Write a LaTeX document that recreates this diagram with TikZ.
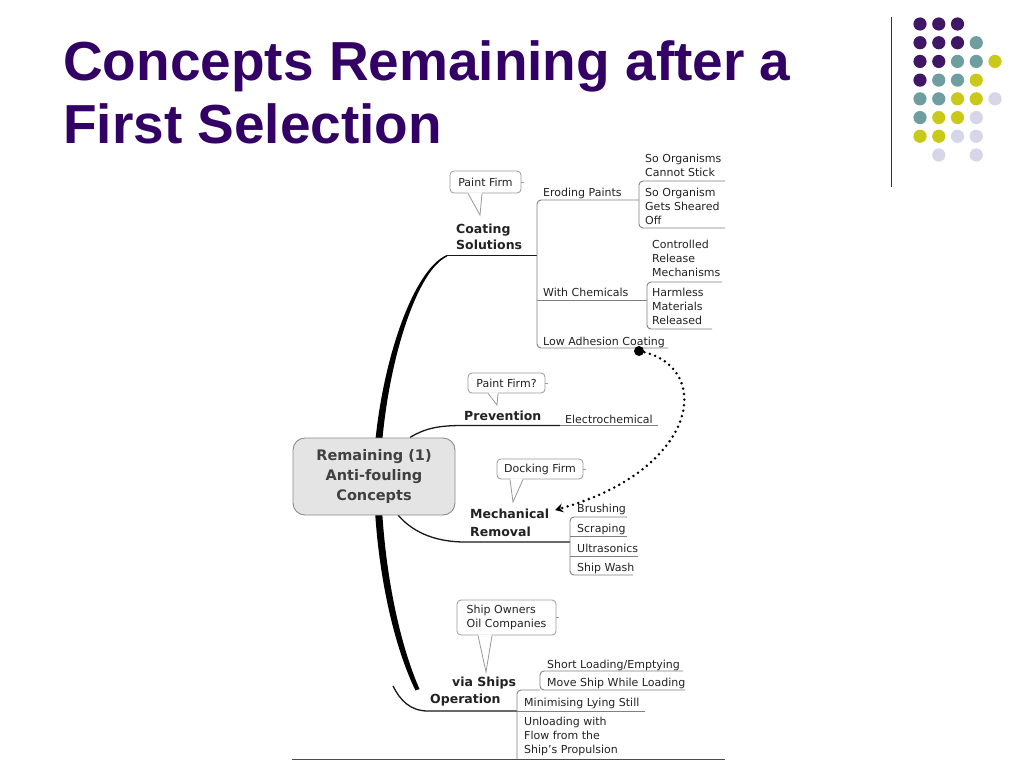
\documentclass[tikz,border=0pt]{standalone}
\usepackage{fontspec}
\setmainfont{DejaVu Sans}
\newfontfamily\titlefont{Liberation Sans}
\usetikzlibrary{arrows.meta}
\definecolor{titlepurple}{RGB}{51,0,102}
\definecolor{dotP}{RGB}{64,22,102}
\definecolor{dotT}{RGB}{110,158,160}
\definecolor{dotY}{RGB}{201,201,26}
\definecolor{dotL}{RGB}{214,214,232}
\definecolor{cenfill}{RGB}{228,228,228}
\definecolor{txt}{RGB}{34,34,34}
\newcommand{\mlines}[1]{\begin{tabular}[t]{@{}l@{}}#1\end{tabular}}
\begin{document}
\begin{tikzpicture}[x=1pt,y=-1pt,
  lbl/.style={inner sep=0pt, anchor=base west, font=\fontsize{11}{14}\selectfont, text=txt},
  boldlbl/.style={inner sep=0pt, anchor=base west, font=\fontsize{12.5}{16.5}\selectfont\bfseries, text=txt},
  br/.style={draw=black!50, line width=0.9pt, rounded corners=4pt},
  mainline/.style={draw=black!90, line width=1.3pt},
  callout/.style={draw=black!40, fill=white, rounded corners=4pt, line width=0.8pt, inner sep=0pt, font=\fontsize{11}{14}\selectfont, text=txt, align=left},
  calloutline/.style={draw=black!40, line width=0.8pt},
  dotted link/.style={draw=black, line width=2.8pt, dash pattern=on 0pt off 5.6pt, line cap=round}]
\useasboundingbox (0,0) rectangle (1024,768);
\fill[white] (0,0) rectangle (1024,768);

% title
\node[inner sep=0pt, anchor=base west, font=\titlefont\bfseries\fontsize{55}{63}\selectfont, text=titlepurple] (title) at (63,80) {\mlines{Concepts Remaining after a\\First Selection}};

% decorative rule and dots
\draw[black!80, line width=1.2pt] (891.5,17) -- (891.5,187);
\foreach \r/\c/\k in {0/0/P,0/1/P,0/2/P,
  1/0/P,1/1/P,1/2/P,1/3/T,
  2/0/P,2/1/P,2/2/T,2/3/T,2/4/Y,
  3/0/P,3/1/T,3/2/T,3/3/Y,
  4/0/T,4/1/T,4/2/Y,4/3/Y,4/4/L,
  5/0/T,5/1/Y,5/2/Y,5/3/L,
  6/0/Y,6/1/Y,6/2/L,6/3/L,
  7/1/L,7/3/L}
  \fill[dot\k] ({920+18.75*\c},{24+18.71*\r}) circle (6.6pt);

% trunk
\fill[black] (447,255) .. controls (414,268.5) and (382,359) .. (374.5,450)
  .. controls (370.5,530) and (386.5,631) .. (415.5,690.5) -- (419.5,689)
  .. controls (393,629) and (378,530) .. (381.5,450)
  .. controls (388,361) and (416.5,271) .. (447,256.5) -- cycle;

% coating branch
\coordinate (tTop) at (446,255.8);
\coordinate (coatJ) at (537,255.8);
\draw[mainline] (tTop) -- (coatJ);
\draw[br] (639,200) -- (537,200) -- (537,348) -- (668,348);
\draw[br] (537,300) -- (647,300);
\draw[br] (725,181) -- (639,181) -- (639,228) -- (725,228);
\draw[br] (722,282) -- (647,282) -- (647,329) -- (712,329);

\node[lbl] (ero) at (543,196) {Eroding Paints};
\node[lbl] (soA) at (645,162.5) {\mlines{So Organisms\\Cannot Stick}};
\node[lbl] (soB) at (645,196.7) {\mlines{So Organism\\Gets Sheared\\Off}};
\node[lbl] (chem) at (543,296.7) {With Chemicals};
\node[lbl] (ctrl) at (652,248) {\mlines{Controlled\\Release\\Mechanisms}};
\node[lbl] (harm) at (652,296.7) {\mlines{Harmless\\Materials\\Released}};
\node[lbl] (lowad) at (543,345) {Low Adhesion Coating};
\node[boldlbl, font=\fontsize{12.5}{16}\selectfont\bfseries] (coat) at (456,233) {\mlines{Coating\\Solutions}};

% prevention branch
\draw[mainline] (410,437.5) .. controls (425,428) and (440,425.5) .. (462,425.5) -- (560,425.5);
\draw[br] (560,425.5) -- (658,425.5);
\node[boldlbl] (prev) at (464,420.7) {Prevention};
\node[lbl] (elec) at (565,423.3) {Electrochemical};

% mechanical branch
\draw[mainline] (398,515) .. controls (415,535) and (440,542) .. (465,542) -- (570,542);
\draw[br] (627,517) -- (570,517) -- (570,575) -- (633,575);
\draw[br] (570,536.5) -- (627,536.5);
\draw[br] (570,556) -- (638,556);
\node[boldlbl, font=\fontsize{12.5}{18}\selectfont\bfseries] (mech) at (470,518) {\mlines{Mechanical\\Removal}};
\node[lbl] (brush) at (577,512.7) {Brushing};
\node[lbl] (scrap) at (577,532.5) {Scraping};
\node[lbl] (ultra) at (577,552) {Ultrasonics};
\node[lbl] (shipw) at (577,571) {Ship Wash};

% operation branch
\draw[mainline] (393,686) .. controls (400,700) and (410,711) .. (428,711) -- (517,711);
\draw[br] (517,711) -- (645,711);
\draw[br] (540,690) -- (517,690) -- (517,759);
\draw[br] (683,671) -- (540,671) -- (540,690) -- (685,690);
\node[boldlbl] (ships) at (452,686.7) {via Ships};
\node[boldlbl] (oper) at (430,703.3) {Operation};
\node[lbl] (short) at (547,668.3) {Short Loading/Emptying};
\node[lbl] (move) at (547,686.7) {Move Ship While Loading};
\node[lbl] (minim) at (524,706.7) {Minimising Lying Still};
\node[lbl] (unload) at (524,725) {\mlines{Unloading with\\Flow from the\\Ship's Propulsion}};

% central topic
\node[draw=black!45, fill=cenfill, rounded corners=12pt, line width=0.9pt,
  minimum width=162pt, minimum height=77pt, align=center, text=black!75,
  font=\fontsize{14.5}{20}\selectfont\bfseries] (cen) at (374,476.5)
  {Remaining (1)\\Anti-fouling\\Concepts};

% callouts
\node[callout, minimum width=71pt, minimum height=22pt] (cPaint) at (485.5,182) {Paint Firm};
\path[fill=white] ([xshift=-17.5pt,yshift=1pt]cPaint.south) -- (480,215) -- ([xshift=-3.5pt,yshift=1pt]cPaint.south) -- cycle;
\draw[calloutline] ([xshift=-17.5pt]cPaint.south) -- (480,215) -- ([xshift=-3.5pt]cPaint.south);
\draw[calloutline] (cPaint.east) -- ++(3,0);

\node[callout, minimum width=77pt, minimum height=20pt] (cPaint2) at (506.5,383) {Paint Firm?};
\path[fill=white] ([xshift=-18.5pt,yshift=1pt]cPaint2.south) -- (497,405) -- ([xshift=-8.5pt,yshift=1pt]cPaint2.south) -- cycle;
\draw[calloutline] ([xshift=-18.5pt]cPaint2.south) -- (497,405) -- ([xshift=-8.5pt]cPaint2.south);
\draw[calloutline] (cPaint2.east) -- ++(3,0);

\node[callout, minimum width=86pt, minimum height=20pt] (cDock) at (540,469) {Docking Firm};
\path[fill=white] ([xshift=-30pt,yshift=1pt]cDock.south) -- (513,502) -- ([xshift=-17pt,yshift=1pt]cDock.south) -- cycle;
\draw[calloutline] ([xshift=-30pt]cDock.south) -- (513,502) -- ([xshift=-17pt]cDock.south);
\draw[calloutline] (cDock.east) -- ++(3,0);

\node[callout, minimum width=99pt, minimum height=35pt] (cShip) at (506.5,617.5) {Ship Owners\\Oil Companies};
\path[fill=white] ([xshift=-28.5pt,yshift=1pt]cShip.south) -- (486,672) -- ([xshift=-14.5pt,yshift=1pt]cShip.south) -- cycle;
\draw[calloutline] ([xshift=-28.5pt]cShip.south) -- (486,672) -- ([xshift=-14.5pt]cShip.south);
\draw[calloutline] (cShip.east) -- ++(3,0);

% dotted relationship
\node[circle, fill=black, minimum size=10pt, inner sep=0pt] (adot) at (639,351) {};
\coordinate (mechIn) at (555,510);
\draw[dotted link, -{Stealth[length=8pt,width=9pt]}] (adot.center) .. controls (715,365) and (700,470) .. (mechIn);

% bottom rule
\draw[black!70, line width=1.2pt] (292,759.5) -- (725,759.5);
\end{tikzpicture}
\end{document}
